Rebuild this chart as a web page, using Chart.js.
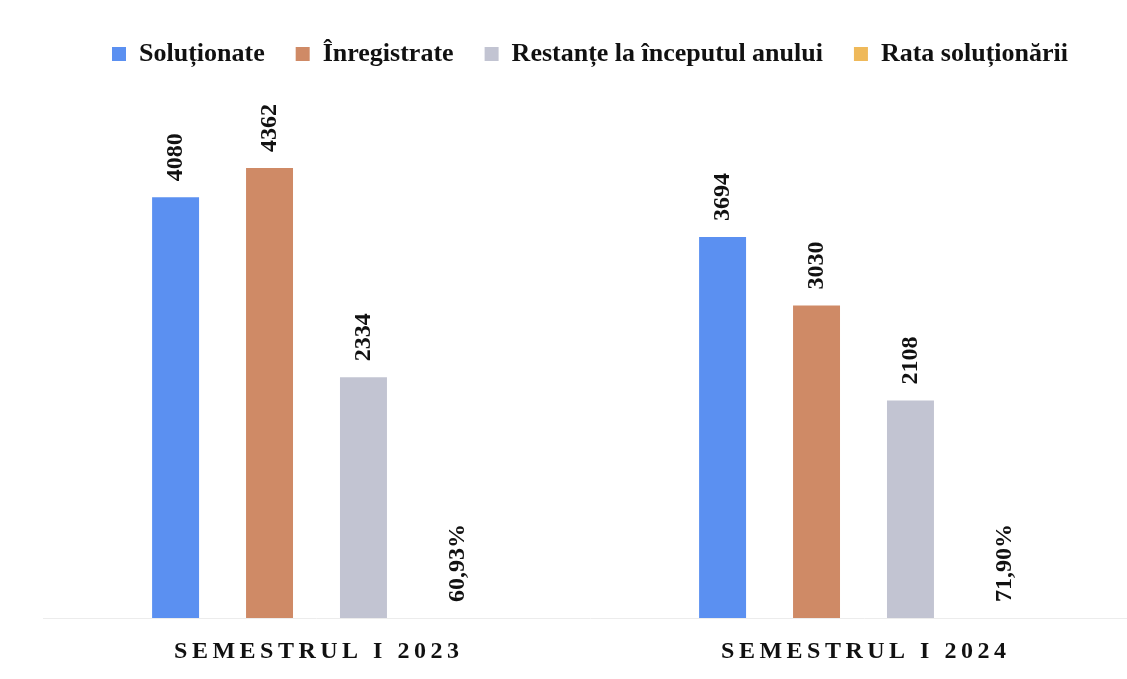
<!DOCTYPE html>
<html>
<head>
<meta charset="utf-8">
<script src="https://cdn.jsdelivr.net/npm/chart.js@4"></script>
<style>
  html, body { margin: 0; padding: 0; background: #fff; overflow: hidden; }
  #wrap { position: relative; width: 1169px; height: 679px; }
</style>
</head>
<body>
<div id="wrap"><canvas id="chart"></canvas></div>
<script>
const categories = ["SEMESTRUL I 2023", "SEMESTRUL I 2024"];
const solutionate = [4080, 3694];
const inregistrate = [4362, 3030];
const restante = [2334, 2108];
const rataSolutionarii = [0.6093, 0.719];

const serif = '"Liberation Serif", "Times New Roman", serif';

// rotated value labels above each bar
const barLabels = {
  id: "barLabels",
  afterDatasetsDraw(chart) {
    const ctx = chart.ctx;
    ctx.save();
    ctx.font = "bold 24px " + serif;
    ctx.fillStyle = "#111";
    ctx.textAlign = "left";
    ctx.textBaseline = "middle";
    chart.data.datasets.forEach((ds, di) => {
      chart.getDatasetMeta(di).data.forEach((bar, i) => {
        const v = ds.data[i];
        const text = ds.isRate
          ? (v * 100).toFixed(2).replace(".", ",") + "%"
          : String(v);
        ctx.save();
        ctx.translate(bar.x, bar.y - 16);
        ctx.rotate(-Math.PI / 2);
        ctx.fillText(text, 0, 0);
        ctx.restore();
      });
    });
    ctx.restore();
  },
};

// spaced-out category labels under the axis
const spacedTicks = {
  id: "spacedTicks",
  afterDraw(chart) {
    const ctx = chart.ctx;
    const xScale = chart.scales.x;
    const spacing = 4.5;
    ctx.save();
    ctx.font = "bold 24px " + serif;
    ctx.fillStyle = "#111";
    ctx.textBaseline = "middle";
    ctx.textAlign = "left";
    ctx.letterSpacing = spacing + "px";
    categories.forEach((label, i) => {
      const w = ctx.measureText(label).width - spacing;
      const x = xScale.getPixelForValue(i);
      ctx.fillText(label, x - w / 2, xScale.bottom + 34);
    });
    ctx.restore();
  },
};

new Chart(document.getElementById("chart"), {
  type: "bar",
  data: {
    labels: categories,
    datasets: [
      { label: "Soluționate", data: solutionate, backgroundColor: "#5b90f1" },
      { label: "Înregistrate", data: inregistrate, backgroundColor: "#cf8a66" },
      { label: "Restanțe la începutul anului", data: restante, backgroundColor: "#c2c4d2" },
      { label: "Rata soluționării", data: rataSolutionarii, backgroundColor: "#efb95a", isRate: true },
    ],
  },
  options: {
    responsive: true,
    maintainAspectRatio: false,
    animation: false,
    layout: { padding: { left: 43, right: 32, top: 10, bottom: 61 } },
    datasets: {
      bar: { categoryPercentage: 0.687, barPercentage: 0.5 },
    },
    plugins: {
      legend: {
        position: "top",
        labels: {
          color: "#111",
          font: { family: serif, size: 26, weight: "bold" },
          boxWidth: 14,
          boxHeight: 14,
          padding: 31,
        },
      },
      tooltip: { enabled: false },
    },
    scales: {
      x: {
        grid: { display: false, drawTicks: false },
        border: { display: true, color: "#ececec", dash: [2, 5] },
        ticks: { display: false },
      },
      y: {
        display: false,
        min: 0,
        max: 5245,
      },
    },
  },
  plugins: [barLabels, spacedTicks],
});
</script>
</body>
</html>
